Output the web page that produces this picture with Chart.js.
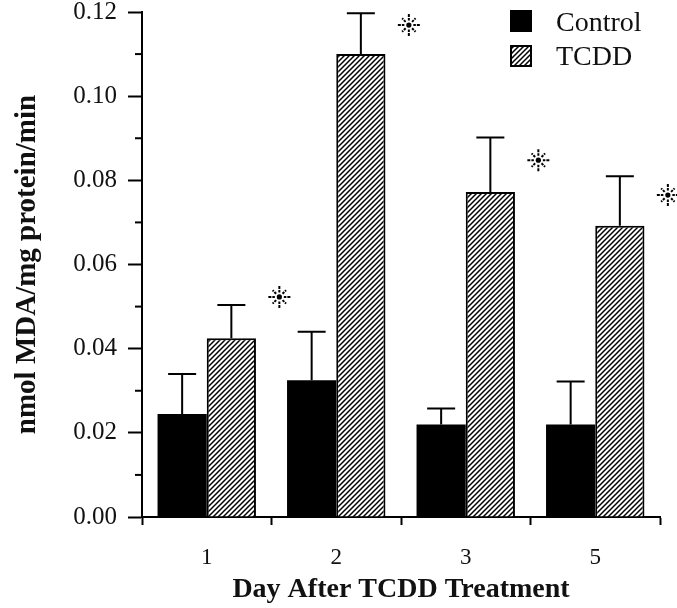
<!DOCTYPE html>
<html>
<head>
<meta charset="utf-8">
<script src="https://cdn.jsdelivr.net/npm/chart.js@4.4.1/dist/chart.umd.min.js"></script>
<style>
  html, body { margin: 0; padding: 0; background: #fff; }
  #wrap { width: 677px; height: 608px; }
</style>
</head>
<body>
<div id="wrap"><canvas id="grafico"></canvas></div>
<script>
// dados
var dias = ["1", "2", "3", "5"];
var controle = [0.0245, 0.0325, 0.0220, 0.0220];
var controleErro = [0.0095, 0.0115, 0.0038, 0.0102];
var tcdd = [0.0425, 0.1100, 0.0772, 0.0692];
var tcddErro = [0.0079, 0.0097, 0.0130, 0.0118];
// altura (em valor) dos asteriscos de significancia
var asteriscos = [0.0523, 0.1169, 0.0848, 0.0765];
var ticksY = [0, 0.02, 0.04, 0.06, 0.08, 0.10, 0.12];

var serif = "'Liberation Serif', 'Times New Roman', serif";

// hachura diagonal usada no TCDD
function criarHachura() {
    var s = 5;
    var c = document.createElement("canvas");
    c.width = s; c.height = s;
    var g = c.getContext("2d");
    g.fillStyle = "#fff";
    g.fillRect(0, 0, s, s);
    g.strokeStyle = "#000";
    g.lineWidth = 1.5;
    g.beginPath();
    g.moveTo(0, s); g.lineTo(s, 0);
    g.moveTo(-1, 1); g.lineTo(1, -1);
    g.moveTo(s - 1, s + 1); g.lineTo(s + 1, s - 1);
    g.stroke();
    return g.createPattern(c, "repeat");
}

var hachura = criarHachura();

function desenharAsterisco(ctx, cx, cy) {
    ctx.beginPath();
    ctx.arc(cx, cy, 2.6, 0, Math.PI * 2);
    ctx.fill();
    ctx.beginPath();
    for (var k = 0; k < 8; k++) {
        var a = k * Math.PI / 4;
        var r2 = (k % 2 === 0) ? 11 : 9.5;
        var cs = Math.cos(a), sn = Math.sin(a);
        ctx.moveTo(cx + cs * 4.5, cy + sn * 4.5);
        ctx.lineTo(cx + cs * 7, cy + sn * 7);
        ctx.moveTo(cx + cs * 8, cy + sn * 8);
        ctx.lineTo(cx + cs * r2, cy + sn * r2);
    }
    ctx.stroke();
}

var extras = {
    id: "extras",
    afterDatasetsDraw: function (chart) {
        var ctx = chart.ctx;
        var y = chart.scales.y;
        ctx.save();
        ctx.strokeStyle = "#000";
        ctx.fillStyle = "#000";
        ctx.lineWidth = 2;

        // barras de erro (so para cima)
        [[0, controle, controleErro], [1, tcdd, tcddErro]].forEach(function (d) {
            chart.getDatasetMeta(d[0]).data.forEach(function (bar, i) {
                var topo = y.getPixelForValue(d[1][i] + d[2][i]);
                ctx.beginPath();
                ctx.moveTo(bar.x, bar.y);
                ctx.lineTo(bar.x, topo);
                ctx.moveTo(bar.x - 14, topo);
                ctx.lineTo(bar.x + 14, topo);
                ctx.stroke();
            });
        });

        // ticks menores do eixo y
        for (var i = 0; i < ticksY.length - 1; i++) {
            var py = y.getPixelForValue((ticksY[i] + ticksY[i + 1]) / 2);
            ctx.beginPath();
            ctx.moveTo(chart.chartArea.left - 7, py);
            ctx.lineTo(chart.chartArea.left, py);
            ctx.stroke();
        }

        // asteriscos
        ctx.lineWidth = 2;
        chart.getDatasetMeta(1).data.forEach(function (bar, i) {
            desenharAsterisco(ctx, bar.x + 48, y.getPixelForValue(asteriscos[i]));
        });

        // legenda
        ctx.fillStyle = "#000";
        ctx.fillRect(510, 10, 22, 22);
        ctx.fillStyle = hachura;
        ctx.fillRect(510, 45, 22, 22);
        ctx.lineWidth = 2;
        ctx.strokeRect(511, 46, 20, 20);
        ctx.fillStyle = "#111";
        ctx.font = "28px " + serif;
        ctx.textBaseline = "alphabetic";
        ctx.fillText("Control", 556, 31);
        ctx.fillText("TCDD", 556, 65);
        ctx.restore();
    }
};

var ctx = document.getElementById("grafico");

new Chart(ctx, {
    type: "bar",
    data: {
        labels: dias,
        datasets: [
            {
                label: "Control",
                data: controle,
                backgroundColor: "#000",
                borderColor: "#000",
                borderWidth: 0
            },
            {
                label: "TCDD",
                data: tcdd,
                backgroundColor: hachura,
                borderColor: "#000",
                borderWidth: 2
            }
        ]
    },
    options: {
        responsive: true,
        maintainAspectRatio: false,
        animation: false,
        layout: { padding: { top: 12, right: 17, bottom: 0, left: 0 } },
        datasets: { bar: { categoryPercentage: 0.76, barPercentage: 1.0 } },
        plugins: {
            legend: { display: false },
            tooltip: { enabled: false }
        },
        scales: {
            x: {
                offset: true,
                afterFit: function (s) { s.height = 91; s.paddingLeft = 0; s.paddingRight = 0; },
                border: { color: "#000", width: 2 },
                grid: {
                    offset: true,
                    drawOnChartArea: false,
                    tickLength: 8,
                    tickColor: "#000",
                    tickWidth: 2
                },
                ticks: {
                    color: "#111",
                    padding: 19,
                    font: { family: serif, size: 23 }
                },
                title: {
                    display: true,
                    text: "Day After TCDD Treatment",
                    color: "#111",
                    padding: { top: 0, bottom: 1 },
                    font: { family: serif, size: 28, weight: "bold" }
                }
            },
            y: {
                min: 0,
                max: 0.12,
                afterFit: function (s) { s.width = 142; s.paddingTop = 0; s.paddingBottom = 0; },
                border: { color: "#000", width: 2 },
                grid: {
                    drawOnChartArea: false,
                    tickLength: 14,
                    tickColor: "#000",
                    tickWidth: 2
                },
                afterBuildTicks: function (s) {
                    s.ticks = ticksY.map(function (v) { return { value: v }; });
                },
                ticks: {
                    color: "#111",
                    padding: 11,
                    font: { family: serif, size: 25 },
                    callback: function (v) { return Number(v).toFixed(2); }
                },
                title: {
                    display: true,
                    text: "nmol MDA/mg protein/min",
                    color: "#111",
                    padding: { top: 10, bottom: 0 },
                    font: { family: serif, size: 29, weight: "bold" }
                }
            }
        }
    },
    plugins: [extras]
});
</script>
</body>
</html>
